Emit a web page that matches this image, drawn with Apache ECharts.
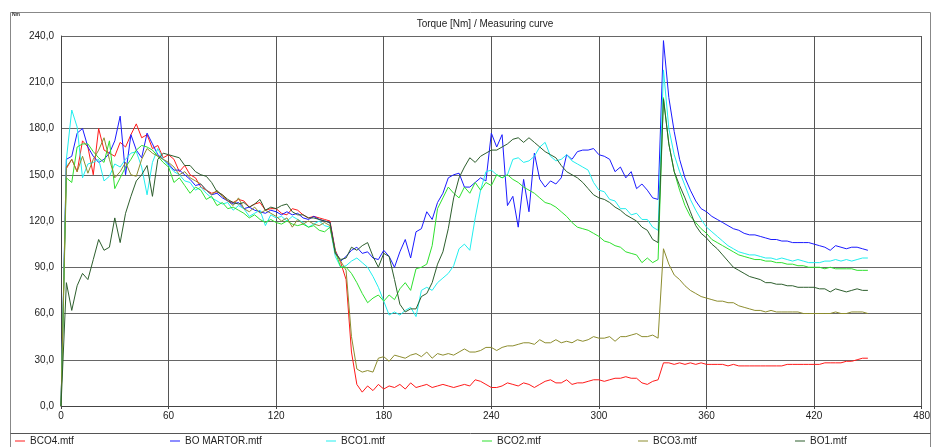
<!DOCTYPE html>
<html><head><meta charset="utf-8">
<script src="https://cdn.jsdelivr.net/npm/echarts@6/dist/echarts.min.js"></script>
<style>html,body{margin:0;padding:0;background:#fff;}#c{width:933px;height:447px;}</style>
</head><body><div id="c"></div>
<script>
// sampling times (s): 0..450 every 3 s
const step = 3;
const times = [];
for (let t = 0; t <= 450; t += step) times.push(t);

const xTicks = [0, 60, 120, 180, 240, 300, 360, 420, 480];
const yTicks = [0, 30, 60, 90, 120, 150, 180, 210, 240];

const seriesNames = ['BCO4.mtf', 'BO MARTOR.mtf', 'BCO1.mtf', 'BCO2.mtf', 'BCO3.mtf', 'BO1.mtf'];
const seriesColors = ['#ff1a1a', '#1a1aff', '#22eeee', '#2ee02e', '#8c8c2e', '#2d5e2d'];

const bco4 = [
  0,154,160,152,172,168,150,180,166,164,
  162,171,168,176,183,174,176,167,169,161,
  163,160,152,156,150,148,142,140,138,139,
  137,133,132,134,133,129,131,132,127,128,
  128,125,124,128,127,124,122,123,122,121,
  120,101,93,82,35,14,9,13,10,14,
  11,13,12,14,11,15,12,13,14,12,
  13,14,13,12,13,14,13,17,16,14,
  12,12,13,15,14,13,15,14,12,14,
  16,17,15,15,17,14,15,15,16,17,
  17,16,17,18,18,19,18,18,15,14,
  16,17,28,28,27,28,27,28,27,28,
  27,27,27,27,26,27,26,26,26,26,
  26,26,26,26,26,27,27,27,27,27,
  27,27,28,28,28,28,29,29,30,31,
  31
];
const boMartor = [
  0,160,162,177,180,168,162,158,160,164,
  172,188,150,176,166,161,177,170,163,160,
  157,153,153,150,147,143,144,140,137,138,
  135,133,131,132,128,129,127,126,125,127,
  126,124,126,124,125,122,121,123,121,120,
  119,100,94,97,101,103,99,100,96,95,
  101,97,90,100,108,96,113,115,126,121,
  132,138,148,150,151,142,142,145,148,146,
  177,168,176,130,136,116,147,126,164,147,
  142,146,144,148,163,160,165,166,166,167,
  163,162,160,152,155,148,152,141,144,140,
  135,134,237,200,178,160,148,140,133,128,
  126,123,121,119,117,115,114,112,111,111,
  110,109,108,108,107,107,106,106,106,106,
  105,104,103,101,104,103,102,103,103,102,
  101
];
const bco1 = [
  0,160,192,181,148,157,158,160,146,149,
  157,155,160,164,165,155,137,158,167,160,
  156,152,150,146,145,140,142,138,135,133,
  131,132,127,130,128,123,125,127,117,124,
  122,123,120,123,121,119,116,118,120,117,
  116,97,90,91,94,96,93,90,84,77,
  68,59,61,59,62,64,58,75,77,75,
  80,83,86,91,102,105,101,122,140,152,
  153,150,148,150,160,161,158,159,162,168,
  171,162,159,160,163,159,157,155,153,145,
  140,139,134,133,128,128,124,125,121,121,
  116,114,218,180,163,152,143,134,127,121,
  116,113,110,107,104,102,100,99,98,98,
  97,96,96,95,96,95,94,95,94,93,
  93,93,94,94,95,94,95,94,95,96,
  96
];
const bco2 = [
  0,148,145,168,170,170,165,161,158,172,
  141,148,155,160,166,169,168,166,162,158,
  155,145,148,143,138,142,140,134,136,130,
  132,128,129,127,125,122,124,121,119,121,
  119,118,120,118,117,118,116,117,114,113,
  116,100,90,90,86,80,73,67,70,72,
  68,72,69,76,80,75,89,90,92,104,
  128,135,142,138,135,142,138,145,140,145,
  143,150,148,150,147,145,142,140,138,135,
  132,131,129,126,123,119,116,115,114,112,
  110,107,106,104,103,100,99,98,93,96,
  93,95,200,170,152,140,130,123,119,115,
  112,108,106,104,102,100,98,97,96,95,
  95,94,94,93,93,92,92,91,91,90,
  90,90,89,90,89,89,89,89,88,88,
  88
];
const bco3 = [
  0,155,160,152,162,151,160,166,174,160,
  148,152,158,150,149,160,167,164,162,160,
  158,155,150,152,148,146,144,140,137,140,
  136,133,130,135,128,126,129,125,127,125,
  123,120,122,116,121,118,120,118,117,119,
  117,99,94,88,45,24,22,23,22,31,
  32,29,33,32,31,33,34,32,35,31,
  34,33,34,33,35,37,35,35,36,38,
  38,36,38,39,39,40,41,41,40,43,
  41,41,43,41,42,41,43,42,43,45,
  44,44,45,42,45,45,46,47,45,45,
  46,44,102,92,85,82,78,75,73,71,
  70,69,68,68,67,67,65,64,63,62,
  62,61,62,61,61,61,61,61,60,60,
  60,60,60,60,61,60,60,61,61,61,
  60
];
const bo1 = [
  0,80,62,78,86,82,95,108,101,103,
  122,106,125,136,146,150,156,136,160,164,
  163,162,161,156,156,152,150,149,145,139,
  137,134,132,131,132,129,131,134,127,129,
  128,130,131,126,124,124,122,122,121,120,
  119,99,95,96,103,101,104,106,97,90,
  99,97,82,66,61,63,63,71,73,80,
  92,100,115,135,148,155,161,158,162,164,
  166,166,168,170,173,174,171,174,171,168,
  165,163,161,156,152,150,148,145,141,137,
  135,134,132,129,127,124,122,120,116,114,
  108,106,199,170,152,143,135,126,117,112,
  109,105,102,98,94,90,88,86,84,83,
  82,80,80,79,79,78,78,77,77,77,
  77,76,76,74,76,75,74,75,76,75,
  75
];
const seriesValues = [bco4, boMartor, bco1, bco2, bco3, bo1];

const FONT = 'Liberation Sans, Arial, sans-serif';
const legendLefts = [15, 170, 326, 482, 638, 795];

const chart = echarts.init(document.getElementById('c'), null, {renderer: 'canvas'});
const option = {
  animation: false,
  backgroundColor: '#fff',
  textStyle: {fontFamily: FONT},
  title: {
    text: 'Torque [Nm] / Measuring curve',
    left: 480, top: 14, textAlign: 'center',
    textStyle: {fontSize: 10, fontWeight: 'normal', color: '#222', fontFamily: FONT}
  },
  grid: {left: 61, right: 7, top: 36, bottom: 41, containLabel: false},
  xAxis: {
    type: 'value', min: xTicks[0], max: xTicks[xTicks.length - 1], interval: 60,
    axisLine: {show: true, lineStyle: {color: '#444', width: 1}},
    axisTick: {show: true, length: 3, lineStyle: {color: '#444'}},
    axisLabel: {fontSize: 10, color: '#222', margin: 5, fontFamily: FONT, showMaxLabel: true},
    splitLine: {show: true, lineStyle: {color: '#555', width: 1}}
  },
  yAxis: {
    type: 'value', min: yTicks[0], max: yTicks[yTicks.length - 1], interval: 30,
    axisLine: {show: true, lineStyle: {color: '#444', width: 1}},
    axisTick: {show: false},
    axisLabel: {fontSize: 10, color: '#222', margin: 7, fontFamily: FONT,
      formatter: v => v.toFixed(1).replace('.', ',')},
    splitLine: {show: true, lineStyle: {color: '#666', width: 1}}
  },
  legend: seriesNames.map((n, i) => ({
    data: [n], left: legendLefts[i], top: 436,
    icon: 'rect', itemWidth: 10, itemHeight: 1, itemGap: 0, itemTextGap: 7,
    padding: 0, selectedMode: false,
    textStyle: {fontSize: 10, color: '#222', fontFamily: FONT}
  })),
  graphic: [
    {type: 'rect', silent: true, z: -1,
     shape: {x: 10.5, y: 12.5, width: 920, height: 445},
     style: {fill: null, stroke: '#888', lineWidth: 1}},
    {type: 'line', silent: true,
     shape: {x1: 10.5, y1: 433.5, x2: 930.5, y2: 433.5},
     style: {stroke: '#555', lineWidth: 1}},
    {type: 'text', silent: true, left: 12, top: 12,
     style: {text: 'Nm', fontSize: 5, fontWeight: 'bold', fill: '#333', fontFamily: FONT}}
  ],
  series: seriesNames.map((n, i) => ({
    name: n, type: 'line', symbol: 'none', showSymbol: false,
    color: seriesColors[i],
    lineStyle: {width: 1, color: seriesColors[i]},
    emphasis: {disabled: true},
    data: times.map((t, k) => [t, seriesValues[i][k]])
  }))
};
chart.setOption(option);
</script>
</body></html>
